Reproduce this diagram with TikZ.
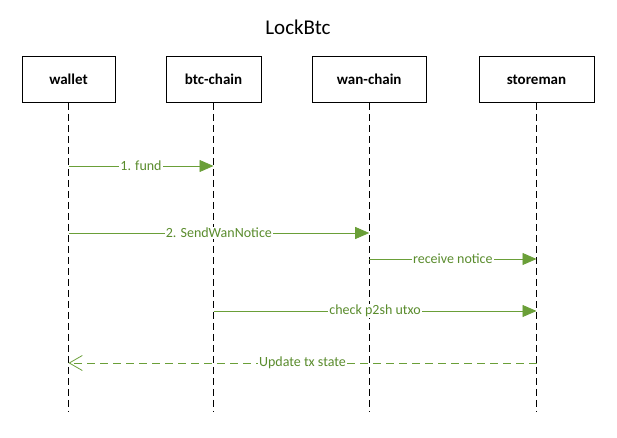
\documentclass[tikz,border=0pt]{standalone}
\usepackage{fontspec}
\setmainfont{Carlito}
\usetikzlibrary{arrows.meta}
\definecolor{msggreen}{RGB}{106,159,56}
\definecolor{txtgreen}{RGB}{90,140,45}
\tikzset{
  actor/.style={draw=black, line width=0.8pt, minimum height=46pt, inner sep=0pt, font=\fontsize{15}{18}\selectfont\bfseries},
  lifeline/.style={draw=black, line width=0.8pt, dash pattern=on 7pt off 4pt},
  msg/.style={draw=msggreen, line width=0.8pt, -{Triangle[length=14pt,width=12pt]}},
  ret/.style={draw=msggreen, line width=0.8pt, dash pattern=on 8pt off 5pt, -{Straight Barb[length=13pt,width=15pt,line width=0.8pt]}},
  lbl/.style={fill=white, text=txtgreen, inner sep=1pt, font=\fontsize{14}{16}\selectfont},
}
\begin{document}
\begin{tikzpicture}[x=1pt,y=-1pt]
\useasboundingbox (0,0) rectangle (617,438);
\node[font=\fontsize{21}{24}\selectfont] (title) at (298,27) {LockBtc};
\node[actor, minimum width=93pt] (wallet) at (68.5,79.5) {wallet};
\node[actor, minimum width=95pt] (btc) at (213.5,79.5) {btc-chain};
\node[actor, minimum width=114pt] (wan) at (369.2,79.5) {wan-chain};
\node[actor, minimum width=115pt] (store) at (536.5,79.5) {storeman};
\coordinate (walletend) at (68.5,411);
\coordinate (btcend) at (213.5,411);
\coordinate (wanend) at (369.2,411);
\coordinate (storeend) at (536.5,411);
\draw[lifeline] (wallet.south) -- (walletend);
\draw[lifeline] (btc.south) -- (btcend);
\draw[lifeline] (wan.south) -- (wanend);
\draw[lifeline] (store.south) -- (storeend);
% messages
\coordinate (w1) at (68.5,166); \coordinate (b1) at (213.5,166);
\coordinate (w2) at (68.5,233); \coordinate (n2) at (369.2,233);
\coordinate (n3) at (369.2,259); \coordinate (s3) at (536.5,259);
\coordinate (b4) at (213.5,311); \coordinate (s4) at (536.5,311);
\coordinate (s5) at (536.5,363); \coordinate (w5) at (68.5,363);
\draw[msg] (w1) -- node[lbl] (l1) {1. fund} (b1);
\draw[msg] (w2) -- node[lbl] (l2) {2. SendWanNotice} (n2);
\draw[msg] (n3) -- node[lbl] (l3) {receive notice} (s3);
\draw[msg] (b4) -- node[lbl] (l4) {check p2sh utxo} (s4);
\draw[ret] (s5) -- node[lbl] (l5) {Update tx state} (w5);
\end{tikzpicture}
\end{document}
